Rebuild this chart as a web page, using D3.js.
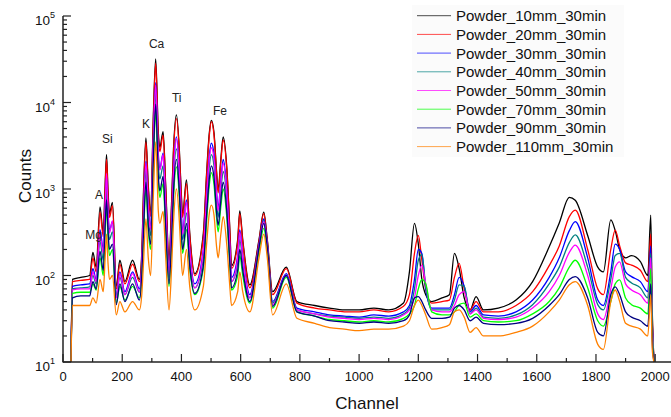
<!DOCTYPE html>
<html>
<head>
<meta charset="utf-8">
<script src="https://cdn.jsdelivr.net/npm/d3@7/dist/d3.min.js"></script>
<style>
  body { margin: 0; background: #fff; }
  svg { display: block; font-family: "Liberation Sans", Arial, sans-serif; }
</style>
</head>
<body>
<svg id="chart" width="671" height="417"></svg>
<script>
var channels = [27, 32, 60, 90, 101, 112, 125, 136, 142, 147,
  152, 157, 167, 180, 192, 209, 235, 258, 266, 271,
  280, 288, 296, 305, 313, 322, 327, 338, 347, 358,
  367, 373, 383, 393, 398, 404, 417, 428, 445, 474,
  485, 494, 501, 510, 519, 524, 533, 541, 553, 564,
  569, 590, 597, 607, 631, 662, 678, 690, 708, 754,
  790, 850, 900, 950, 1000, 1050, 1100, 1150, 1170, 1187,
  1200, 1212, 1225, 1245, 1280, 1305, 1322, 1338, 1355, 1375,
  1395, 1420, 1470, 1530, 1586, 1642, 1676, 1710, 1730, 1772,
  1806, 1825, 1850, 1865, 1880, 1900, 1920, 1950, 1975, 1985,
  1990, 1996];

var counts10mm = [10, 90, 95, 100, 185, 125, 620, 310, 1050, 2500,
  970, 520, 700, 75, 150, 85, 150, 90, 180, 740,
  3900, 1100, 520, 6850, 32000, 4470, 3000, 4600, 1070, 150,
  740, 2800, 7200, 2800, 1170, 520, 1270, 310, 105, 310,
  1530, 4400, 6200, 4450, 1530, 970, 2200, 4000, 1800, 310,
  130, 260, 560, 260, 78, 260, 540, 260, 65, 125,
  50, 45, 42, 40, 40, 42, 40, 48, 110, 400,
  230, 90, 60, 50, 55, 60, 180, 120, 55, 40,
  57, 40, 42, 52, 85, 215, 405, 800, 740, 290,
  125, 110, 440, 330, 200, 160, 170, 145, 100, 500,
  40, 10];

var counts20mm = [10, 85, 88, 90, 160, 110, 540, 280, 930, 2200,
  870, 470, 640, 70, 135, 80, 135, 85, 165, 650,
  3500, 1000, 480, 6000, 28500, 4000, 2700, 4200, 980, 135,
  660, 2500, 6500, 2600, 1080, 470, 1150, 290, 100, 280,
  1400, 4100, 6000, 4200, 1450, 900, 2050, 3700, 1700, 290,
  120, 240, 520, 245, 72, 250, 520, 250, 60, 120,
  48, 42, 40, 38, 38, 40, 38, 44, 60, 180,
  290, 150, 70, 48, 50, 52, 95, 138, 70, 40,
  50, 38, 38, 45, 65, 130, 220, 480, 570, 200,
  70, 60, 200, 335, 220, 140, 132, 115, 85, 300,
  35, 10];

var counts30mm = [10, 75, 78, 80, 120, 90, 340, 200, 600, 1400,
  560, 330, 420, 60, 110, 65, 110, 70, 130, 420,
  2100, 650, 360, 3700, 17000, 2500, 1700, 2600, 650, 110,
  420, 1550, 4000, 1600, 700, 330, 750, 200, 80, 200,
  850, 2400, 3400, 2500, 900, 600, 1250, 2200, 1000, 200,
  95, 170, 340, 170, 60, 230, 450, 230, 50, 105,
  42, 38, 35, 34, 33, 35, 34, 38, 45, 90,
  200, 180, 70, 42, 42, 42, 60, 95, 75, 38,
  45, 35, 34, 38, 52, 95, 160, 330, 420, 160,
  52, 45, 110, 230, 200, 110, 97, 85, 65, 220,
  30, 10];

var counts40mm = [10, 70, 72, 74, 100, 80, 250, 150, 440, 1000,
  410, 260, 320, 56, 95, 60, 95, 64, 115, 320,
  1600, 500, 290, 2800, 13000, 1900, 1300, 1850, 480, 95,
  320, 1150, 2900, 1200, 530, 260, 530, 160, 72, 160,
  650, 1800, 2500, 1850, 700, 470, 950, 1600, 760, 160,
  85, 140, 260, 140, 55, 220, 430, 220, 48, 100,
  40, 36, 34, 33, 32, 33, 32, 36, 42, 70,
  150, 175, 75, 40, 40, 40, 52, 78, 75, 36,
  42, 33, 32, 35, 46, 80, 125, 240, 295, 125,
  46, 40, 90, 170, 180, 95, 82, 72, 55, 180,
  28, 10];

var counts50mm = [10, 68, 70, 70, 110, 85, 300, 180, 560, 1500,
  520, 310, 430, 55, 105, 60, 105, 65, 125, 380,
  2000, 600, 340, 3400, 16000, 2300, 1650, 2500, 600, 100,
  380, 1450, 3800, 1500, 650, 300, 700, 190, 72, 190,
  780, 2200, 3000, 2250, 820, 560, 1150, 2000, 900, 190,
  85, 160, 320, 160, 55, 220, 420, 220, 46, 100,
  40, 36, 33, 32, 31, 32, 31, 35, 40, 55,
  100, 132, 80, 40, 38, 38, 45, 60, 65, 36,
  40, 32, 31, 33, 42, 65, 100, 185, 225, 100,
  36, 31, 70, 125, 144, 80, 68, 60, 48, 160,
  26, 10];

var counts70mm = [10, 62, 64, 64, 80, 68, 160, 100, 300, 620,
  280, 170, 200, 48, 75, 52, 75, 55, 90, 220,
  1000, 330, 200, 1750, 8000, 1200, 800, 1150, 300, 75,
  230, 750, 1800, 780, 360, 180, 340, 120, 60, 120,
  420, 1100, 1550, 1120, 450, 320, 620, 1000, 480, 120,
  68, 100, 170, 100, 48, 190, 350, 190, 42, 95,
  38, 34, 31, 30, 29, 30, 29, 32, 36, 45,
  70, 90, 80, 38, 35, 35, 38, 46, 48, 33,
  36, 30, 29, 30, 36, 50, 72, 125, 150, 72,
  30, 26, 50, 80, 89, 55, 46, 42, 36, 120,
  22, 10];

var counts90mm = [10, 55, 58, 58, 85, 70, 190, 115, 350, 750,
  330, 200, 230, 46, 80, 50, 80, 52, 100, 260,
  1200, 380, 230, 2100, 9600, 1400, 950, 1400, 360, 80,
  270, 900, 2200, 920, 420, 200, 400, 130, 62, 130,
  500, 1300, 1850, 1350, 520, 380, 730, 1200, 560, 130,
  72, 115, 200, 115, 50, 210, 400, 210, 44, 100,
  38, 34, 30, 29, 28, 29, 28, 30, 35, 55,
  57, 50, 40, 32, 32, 33, 42, 45, 40, 30,
  33, 28, 27, 28, 32, 45, 60, 90, 97, 55,
  22, 20, 60, 74, 60, 38, 33, 30, 26, 80,
  18, 10];

var counts110mm = [10, 45, 45, 45, 55, 48, 90, 65, 150, 300,
  140, 90, 100, 35, 50, 38, 50, 40, 60, 120,
  450, 160, 100, 800, 3500, 550, 400, 550, 160, 40,
  130, 400, 1000, 420, 190, 100, 200, 75, 40, 75,
  230, 520, 650, 500, 210, 160, 300, 480, 230, 70,
  45, 65, 110, 65, 38, 160, 300, 160, 35, 80,
  32, 28, 25, 24, 23, 24, 24, 26, 30, 45,
  52, 45, 35, 24, 25, 27, 38, 40, 33, 22,
  25, 20, 20, 22, 26, 38, 52, 78, 85, 45,
  16, 14, 50, 68, 50, 28, 26, 24, 20, 60,
  14, 10];

var seriesNames = ["Powder_10mm_30min", "Powder_20mm_30min", "Powder_30mm_30min",
  "Powder_40mm_30min", "Powder_50mm_30min", "Powder_70mm_30min", "Powder_90mm_30min",
  "Powder_110mm_30min"];
var seriesCounts = [counts10mm, counts20mm, counts30mm, counts40mm, counts50mm,
  counts70mm, counts90mm, counts110mm];
var seriesColors = ["#000000", "#ff0000", "#0000ff", "#008080", "#ff00ff", "#00ff00",
  "#000080", "#ff8000"];

// element labels, positioned by channel and count (baseline)
var peakLabels = ["Mg", "A", "Si", "K", "Ca", "Ti", "Fe"];
var peakChannels = [103, 122, 150, 280, 316, 384, 530];
var peakCounts = [261, 776, 3360, 5140, 42700, 10100, 7260];

var xTicks = [0, 200, 400, 600, 800, 1000, 1200, 1400, 1600, 1800, 2000];
var yTicks = [10, 100, 1000, 10000, 100000];

var svg = d3.select("#chart");
var plotLeft = 63, plotRight = 670, plotTop = 16, plotBottom = 362;

var x = d3.scaleLinear().domain([0, 2050]).range([plotLeft, plotRight]);
var y = d3.scaleLog().domain([10, 100000]).range([plotBottom, plotTop]);

// spectra, drawn in legend order so the orange one ends up on top
var line = d3.line()
  .x(function(d) { return x(d[0]); })
  .y(function(d) { return y(d[1]); })
  .curve(d3.curveMonotoneX);

for (var s = 0; s < seriesCounts.length; s++) {
  var pts = channels.map(function(c, i) { return [c, seriesCounts[s][i]]; });
  svg.append("path")
    .attr("d", line(pts))
    .attr("fill", "none")
    .attr("stroke", seriesColors[s])
    .attr("stroke-width", 1.3);
}

// axes (ticks point into the plot)
var xMinor = d3.range(100, 2050, 200);
svg.append("g").selectAll("line").data(xTicks).enter().append("line")
  .attr("x1", function(d) { return x(d); }).attr("x2", function(d) { return x(d); })
  .attr("y1", plotBottom).attr("y2", plotBottom - 8)
  .attr("stroke", "#222").attr("stroke-width", 1.2);
svg.append("g").selectAll("line").data(xMinor).enter().append("line")
  .attr("x1", function(d) { return x(d); }).attr("x2", function(d) { return x(d); })
  .attr("y1", plotBottom).attr("y2", plotBottom - 4)
  .attr("stroke", "#222").attr("stroke-width", 1.2);
svg.append("g").selectAll("text").data(xTicks).enter().append("text")
  .attr("x", function(d) { return x(d); })
  .attr("y", 381)
  .attr("text-anchor", "middle")
  .attr("font-size", 13)
  .attr("fill", "#111")
  .text(function(d) { return d; });

var yMinor = [];
for (var e = 10; e < 100000; e *= 10) {
  for (var k = 2; k < 10; k++) yMinor.push(e * k);
}
svg.append("g").selectAll("line").data(yTicks).enter().append("line")
  .attr("x1", plotLeft).attr("x2", plotLeft + 8)
  .attr("y1", function(d) { return y(d); }).attr("y2", function(d) { return y(d); })
  .attr("stroke", "#222").attr("stroke-width", 1.2);
svg.append("g").selectAll("line").data(yMinor).enter().append("line")
  .attr("x1", plotLeft).attr("x2", plotLeft + 4)
  .attr("y1", function(d) { return y(d); }).attr("y2", function(d) { return y(d); })
  .attr("stroke", "#222").attr("stroke-width", 1.2);

var yLab = svg.append("g").selectAll("text").data(yTicks).enter().append("text")
  .attr("x", 35)
  .attr("y", function(d) { return y(d) + 9; })
  .attr("font-size", 13.5)
  .attr("fill", "#111");
yLab.append("tspan").text("10");
yLab.append("tspan")
  .attr("dy", -7)
  .attr("font-size", 9)
  .text(function(d) { return Math.round(Math.log10(d)); });

svg.append("line")
  .attr("x1", plotLeft).attr("x2", plotLeft).attr("y1", plotTop).attr("y2", plotBottom + 0.5)
  .attr("stroke", "#222").attr("stroke-width", 1.5);
svg.append("line")
  .attr("x1", plotLeft).attr("x2", 671).attr("y1", plotBottom).attr("y2", plotBottom)
  .attr("stroke", "#222").attr("stroke-width", 1.5);

svg.append("text")
  .attr("x", 367).attr("y", 409)
  .attr("text-anchor", "middle")
  .attr("font-size", 17)
  .attr("fill", "#111")
  .text("Channel");
svg.append("text")
  .attr("transform", "translate(31,176) rotate(-90)")
  .attr("text-anchor", "middle")
  .attr("font-size", 17)
  .attr("fill", "#111")
  .text("Counts");

svg.append("g").selectAll("text").data(peakLabels).enter().append("text")
  .attr("x", function(d, i) { return x(peakChannels[i]); })
  .attr("y", function(d, i) { return y(peakCounts[i]); })
  .attr("text-anchor", "middle")
  .attr("font-size", 12)
  .attr("fill", "#222")
  .text(function(d) { return d; });

// legend
var legend = svg.append("g");
legend.append("rect")
  .attr("x", 412).attr("y", 5).attr("width", 212).attr("height", 152)
  .attr("fill", "#fbfbfb");
var rows = legend.selectAll("g.row").data(seriesNames).enter().append("g")
  .attr("transform", function(d, i) { return "translate(0," + (15.7 + i * 18.7) + ")"; });
rows.append("line")
  .attr("x1", 417).attr("x2", 451)
  .attr("stroke", function(d, i) { return seriesColors[i]; })
  .attr("stroke-opacity", 0.7)
  .attr("stroke-width", 1);
rows.append("text")
  .attr("x", 456).attr("y", 5.5)
  .attr("font-size", 15)
  .attr("fill", "#111")
  .text(function(d) { return d; });
</script>
</body>
</html>
